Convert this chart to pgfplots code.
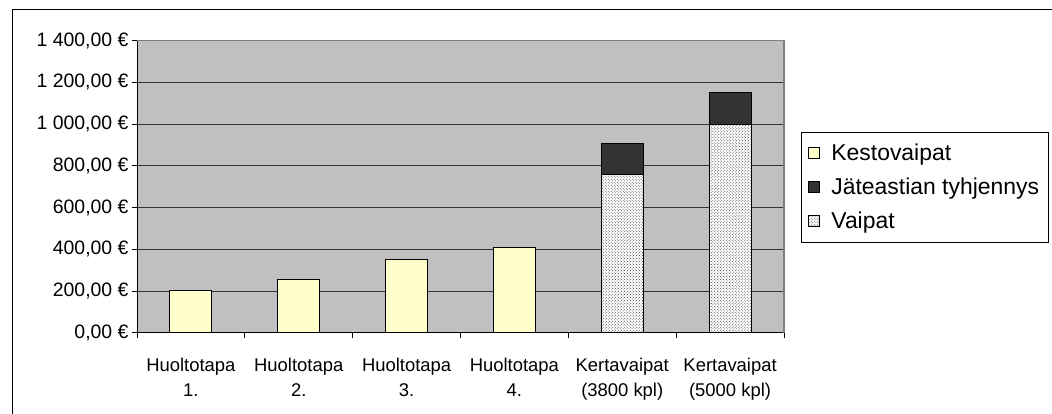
\documentclass[border=0pt]{standalone}
\usepackage{fontspec}
\setmainfont{Liberation Sans}
\usepackage{pgfplots}
\pgfplotsset{compat=1.18}
\usetikzlibrary{patterns}

\definecolor{plotbg}{RGB}{192,192,192}
\definecolor{kesto}{RGB}{255,255,204}
\definecolor{jate}{RGB}{51,51,51}
\definecolor{framegray}{RGB}{128,128,128}

\pgfplotsset{
  sqlegend/.style={legend image code/.code={\draw[##1] (0bp,-5.5bp) rectangle (11bp,5.5bp);}},
}

\begin{document}
\begin{tikzpicture}
\useasboundingbox (0,0) rectangle (1052bp,-414bp);
\begin{axis}[
  at={(137bp,-332.7bp)}, anchor=south west,
  scale only axis, width=647bp, height=292bp,
  ybar stacked, bar width=42bp,
  xmin=-0.5, xmax=5.5, ymin=0, ymax=1400,
  axis x line*=bottom, axis y line*=left,
  axis line style={black, line width=1bp},
  axis background/.style={fill=plotbg},
  tick align=outside, major tick length=5bp,
  tick style={black, line width=0.8bp},
  xtick={-0.5,0.5,...,5.5},
  x tick label as interval,
  xticklabels={{Huoltotapa\\1.},{Huoltotapa\\2.},{Huoltotapa\\3.},{Huoltotapa\\4.},{Kertavaipat\\(3800 kpl)},{Kertavaipat\\(5000 kpl)}},
  xticklabel style={align=center, font=\fontsize{18.5}{25}\selectfont, yshift=-17bp},
  ytick={0,200,...,1400},
  yticklabels={{0,00 €},{200,00 €},{400,00 €},{600,00 €},{800,00 €},{1 000,00 €},{1 200,00 €},{1 400,00 €}},
  yticklabel style={font=\fontsize{19.5}{22}\selectfont},
  ymajorgrids,
  major grid style={black!80, line width=0.9bp},
  reverse legend,
  legend cell align=left,
  legend style={at={(1.0263,0.6884)}, anchor=north west, draw=black, line width=0.8bp,
    fill=white, font=\fontsize{23}{26}\selectfont, row sep=12bp, column sep=9bp,
    inner xsep=7bp, inner ysep=10bp},
  after end axis/.code={
    \draw[framegray, line width=1.5bp] (rel axis cs:0,1) -- (rel axis cs:1,1) -- (rel axis cs:1,0);
  },
]
% disposable nappies: bottom part of the stack
\addplot[sqlegend, draw=black, line width=1bp, fill=white,
  postaction={pattern=crosshatch dots, pattern color=black!75}]
  coordinates {(0,0) (1,0) (2,0) (3,0) (4,760) (5,1000)};
\addlegendentry{Vaipat}
% emptying of the waste bin
\addplot[sqlegend, draw=black, line width=1bp, fill=jate]
  coordinates {(0,0) (1,0) (2,0) (3,0) (4,148) (5,154)};
\addlegendentry{Jäteastian tyhjennys}
% cloth nappies
\addplot[sqlegend, draw=black, line width=1bp, fill=kesto]
  coordinates {(0,200) (1,256) (2,350) (3,408) (4,0) (5,0)};
\addlegendentry{Kestovaipat}
\end{axis}
\draw[black, line width=1bp] (12bp,-500bp) -- (12bp,-9bp) -- (1100bp,-9bp);
\end{tikzpicture}
\end{document}
